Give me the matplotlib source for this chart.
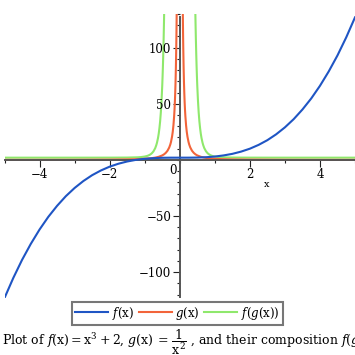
import matplotlib
matplotlib.use("Agg")
import matplotlib.pyplot as plt
from matplotlib.ticker import MultipleLocator

plt.rcParams["font.family"] = "DejaVu Serif"
plt.rcParams["mathtext.fontset"] = "dejavuserif"

# f(x) = x^3 + 2
fx_x = [-5, -4.75, -4.5, -4.25, -4, -3.75, -3.5, -3.25, -3, -2.75, -2.5, -2.25,
        -2, -1.75, -1.5, -1.25, -1, -0.75, -0.5, -0.25, 0, 0.25, 0.5, 0.75,
        1, 1.25, 1.5, 1.75, 2, 2.25, 2.5, 2.75, 3, 3.25, 3.5, 3.75, 4, 4.25,
        4.5, 4.75, 5]
fx_y = [-123, -105.2, -89.1, -74.8, -62, -50.7, -40.9, -32.3, -25, -18.8, -13.6,
        -9.4, -6, -3.4, -1.4, 0.05, 1, 1.58, 1.9, 2.0, 2, 2.0, 2.1, 2.4,
        3, 4.0, 5.4, 7.4, 10, 13.4, 17.6, 22.8, 29, 36.3, 44.9, 54.7, 66, 78.8,
        93.1, 109.2, 127]

# g(x) = 1/x^2, right branch (curve is symmetric)
gx_x = [0.085, 0.09, 0.095, 0.1, 0.11, 0.12, 0.13, 0.14, 0.15, 0.16, 0.18, 0.2,
        0.22, 0.25, 0.27, 0.3, 0.35, 0.4, 0.45, 0.5, 0.6, 0.7, 0.8, 1, 1.2,
        1.5, 2, 3, 4, 5]
gx_y = [138.4, 123.5, 110.8, 100, 82.6, 69.4, 59.2, 51.0, 44.4, 39.1, 30.9, 25,
        20.7, 16, 13.7, 11.1, 8.16, 6.25, 4.94, 4, 2.78, 2.04, 1.56, 1, 0.69,
        0.44, 0.25, 0.11, 0.06, 0.04]

# f(g(x)) = 1/x^6 + 2, right branch
fg_x = [0.44, 0.45, 0.46, 0.47, 0.48, 0.49, 0.5, 0.52, 0.54, 0.56, 0.58, 0.6,
        0.62, 0.65, 0.67, 0.7, 0.75, 0.8, 0.85, 0.9, 0.95, 1, 1.1, 1.2, 1.5,
        2, 3, 5]
fg_y = [139.8, 122.4, 107.6, 94.8, 83.8, 74.3, 66, 52.6, 42.3, 34.4, 28.3, 23.4,
        19.6, 15.3, 13.1, 10.5, 7.62, 5.81, 4.65, 3.88, 3.36, 3, 2.56, 2.33,
        2.09, 2.02, 2.0, 2.0]

blue = "#1f55c4"
red = "#f2643a"
green = "#8fe86c"

fig = plt.figure(figsize=(3.55, 3.55), dpi=100)
ax = fig.add_axes([0.0127, 0.1606, 0.9873, 0.80])

ax.plot(fx_x, fx_y, color=blue, lw=1.5, label=r"$f(\mathrm{x})$", zorder=3)
ax.plot(gx_x, gx_y, color=red, lw=1.5, label=r"$g(\mathrm{x})$", zorder=2)
ax.plot([-v for v in gx_x], gx_y, color=red, lw=1.5, zorder=2)
ax.plot(fg_x, fg_y, color=green, lw=1.5, label=r"$f(g(\mathrm{x}))$", zorder=1)
ax.plot([-v for v in fg_x], fg_y, color=green, lw=1.5, zorder=1)

ax.set_xlim(-5, 5)
ax.set_ylim(-123, 130)

for s in ["top", "right"]:
    ax.spines[s].set_visible(False)
ax.spines["left"].set_position(("data", 0))
ax.spines["bottom"].set_position(("data", 0))
ax.spines["left"].set_bounds(-122, 127)
for s in ["left", "bottom"]:
    ax.spines[s].set_color("#555555")
    ax.spines[s].set_linewidth(1.4)

ax.xaxis.set_minor_locator(MultipleLocator(1))
ax.yaxis.set_minor_locator(MultipleLocator(10))
ax.set_xticks([-4, -2, 2, 4])
ax.set_yticks([-100, -50, 50, 100])
ax.tick_params(which="major", length=5, width=0.8, color="#222222",
               labelsize=8.5, pad=1)
ax.tick_params(which="minor", length=2.5, width=0.8, color="#222222")
ax.set_xticklabels(["\u22124", "\u22122", "2", "4"])
ax.set_yticklabels(["\u2212100", "\u221250", "50", "100"])

ax.text(-0.08, -4, "0", fontsize=8.5, ha="right", va="top")
ax.text(2.49, -18, "x", fontsize=7, ha="center", va="top")

leg = fig.legend(loc="center", bbox_to_anchor=(0.5, 0.118), ncol=3,
                 fontsize=8.5, frameon=True, fancybox=False,
                 edgecolor="#555555", handlelength=2.8, handletextpad=0.3,
                 columnspacing=0.4, borderpad=0.25, borderaxespad=0)
leg.get_frame().set_linewidth(1.5)

# caption runs past the right edge, as in the original
fig.text(0.006, 0.03,
         r"Plot of $f(\mathrm{x}) = \mathrm{x}^3 + 2$, $g(\mathrm{x})\, =\, "
         r"\dfrac{1}{\mathrm{x}^2}$ , and their composition $f(g(\mathrm{x}))$",
         fontsize=9.0, ha="left", va="baseline")

fig.savefig("out.png", dpi=100)
